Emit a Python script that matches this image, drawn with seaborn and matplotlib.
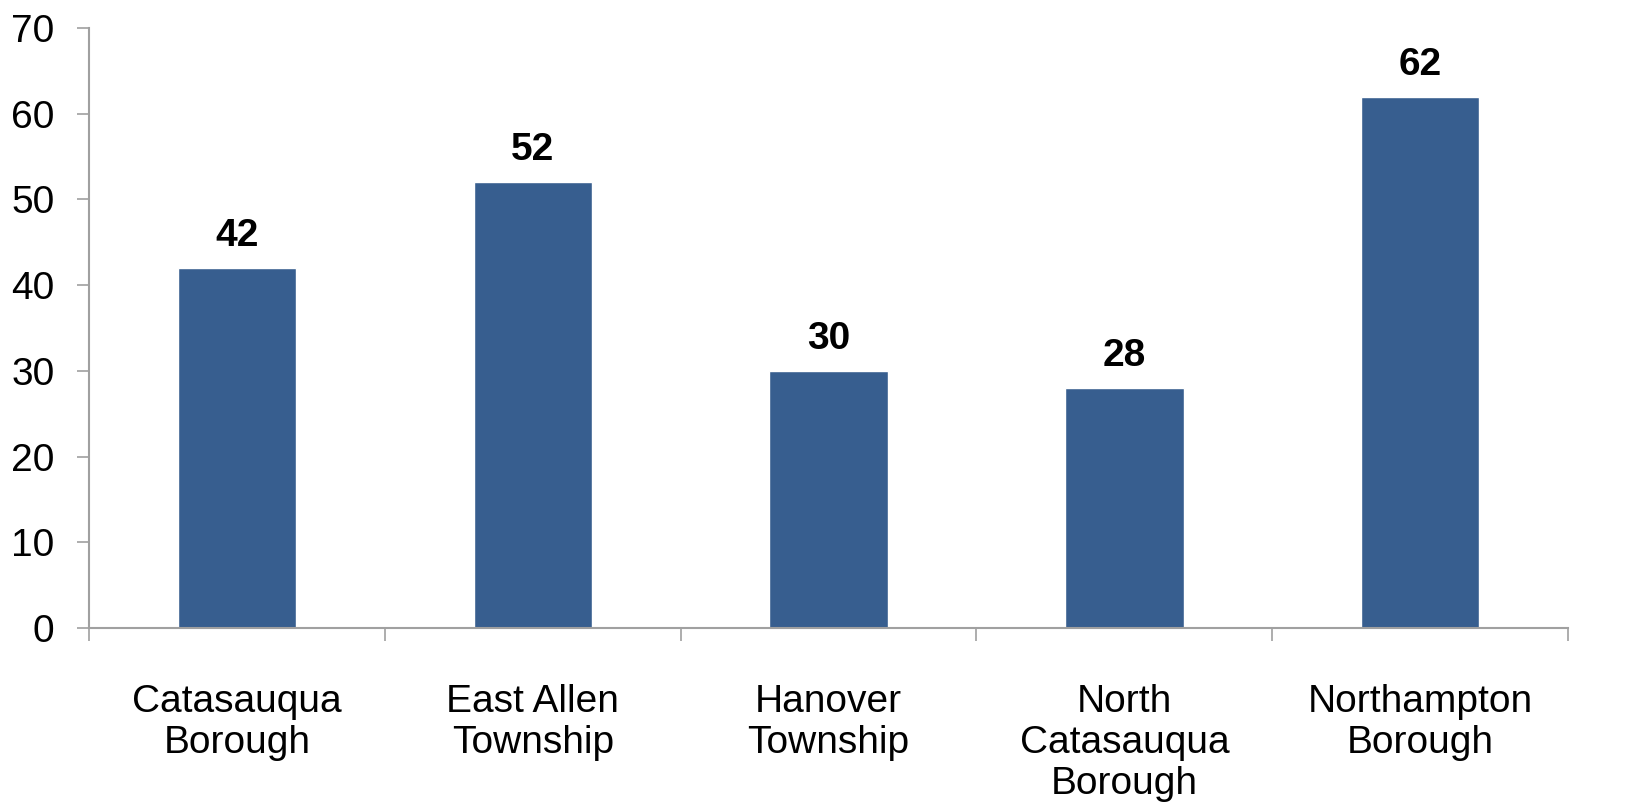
import matplotlib
matplotlib.use("Agg")
import matplotlib.pyplot as plt
import seaborn as sns
import pandas as pd
import numpy as np

categories = ["Catasauqua\nBorough", "East Allen\nTownship", "Hanover\nTownship",
              "North\nCatasauqua\nBorough", "Northampton\nBorough"]
values = [42, 52, 30, 28, 62]
yticks = [0, 10, 20, 30, 40, 50, 60, 70]

sns.set_theme(style="white")
plt.rcParams['font.family'] = ['Liberation Sans', 'DejaVu Sans']
plt.rcParams['text.color'] = 'black'
plt.rcParams['xtick.labelcolor'] = 'black'
plt.rcParams['ytick.labelcolor'] = 'black'

df = pd.DataFrame({"cat": categories, "val": values})

fig = plt.figure(figsize=(16.31, 8.11), dpi=100)
ax = fig.add_axes([0.0546, 0.2256, 0.9068, 0.7399])
sns.barplot(data=df, x="cat", y="val", color="#375E8F", width=0.4, ax=ax,
            saturation=1, order=categories)

ax.set_ylim(0, 70)
ax.set_xlim(-0.5, len(categories) - 0.5)
ax.set_yticks(yticks)
ax.set_yticklabels([str(t) for t in yticks], fontsize=28)
ax.set_xlabel("")
ax.set_ylabel("")
ax.tick_params(axis="x", which="major", length=0, labelsize=28, pad=40, labelcolor="black")
ax.set_xticks(np.arange(-0.5, len(categories), 1.0), minor=True)
ax.tick_params(axis="x", which="minor", length=9, width=1.2, color="#A0A0A0", direction="out", bottom=True)
ax.tick_params(axis="y", length=9, width=1.2, color="#A0A0A0", direction="out", left=True, pad=16, labelcolor="black")
for lab in ax.get_xticklabels():
    lab.set_linespacing(1.18)

for s in ["top", "right"]:
    ax.spines[s].set_visible(False)
for s in ["left", "bottom"]:
    ax.spines[s].set_color("#A0A0A0")
    ax.spines[s].set_linewidth(1.5)

for i, v in enumerate(values):
    ax.annotate(str(v), (i, v), xytext=(0, 10), textcoords="offset points",
                ha="center", va="bottom", fontsize=28, fontweight="bold", color="black")

fig.savefig("out.png", dpi=100, facecolor="white")
